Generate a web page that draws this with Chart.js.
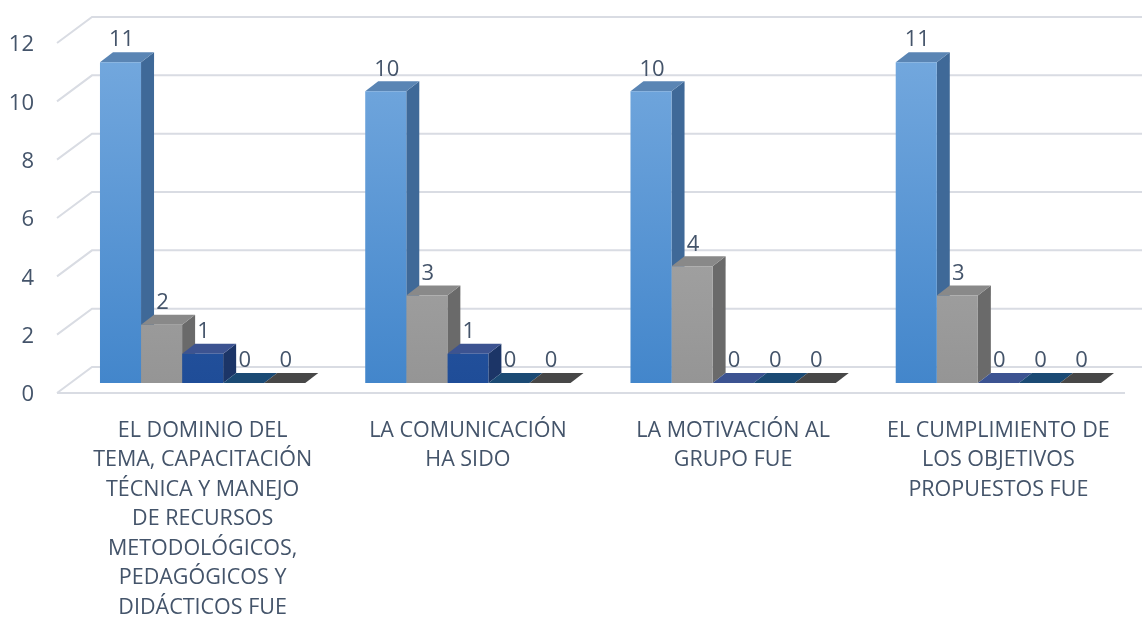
<!DOCTYPE html>
<html>
<head>
<meta charset="utf-8">
<script src="https://cdn.jsdelivr.net/npm/chart.js@4.4.1/dist/chart.umd.min.js"></script>
<style>
  html, body { margin: 0; padding: 0; background: #fff; }
  #wrap { width: 1142px; height: 628px; }
</style>
</head>
<body>
<div id="wrap"><canvas id="grafico"></canvas></div>
<script>
// DATOS

const categorias = [
  ["EL DOMINIO DEL", "TEMA, CAPACITACIÓN", "TÉCNICA Y MANEJO", "DE RECURSOS", "METODOLÓGICOS,", "PEDAGÓGICOS Y", "DIDÁCTICOS FUE"],
  ["LA COMUNICACIÓN", "HA SIDO"],
  ["LA MOTIVACIÓN AL", "GRUPO FUE"],
  ["EL CUMPLIMIENTO DE", "LOS OBJETIVOS", "PROPUESTOS FUE"],
];

const serie1 = [11, 10, 10, 11];
const serie2 = [2, 3, 4, 3];
const serie3 = [1, 1, 0, 0];
const serie4 = [0, 0, 0, 0];
const serie5 = [0, 0, 0, 0];

const ticksY = [0, 2, 4, 6, 8, 10, 12];

// colores de cada serie: frente (arriba/abajo), lado, tapa
const estilos = [
  { arriba: "#76aadf", abajo: "#4386cb", lado: "#3f6998", tapa: "#5a85b4" },
  { arriba: "#b3b3b3", abajo: "#959595", lado: "#6a6a6a", tapa: "#898989" },
  { arriba: "#3964b0", abajo: "#1f4d98", lado: "#1c3567", tapa: "#3c5391" },
  { arriba: "#1d4c78", abajo: "#1b4670", lado: "#143556", tapa: "#1b4a74" },
  { arriba: "#4a4a4a", abajo: "#404040", lado: "#2e2e2e", tapa: "#474747" },
];

// profundidad de las barras y de las paredes
const PROF_X = 13, PROF_Y = -10;
const FONDO_X = 22, FONDO_Y = -16;
const FRENTE_X = -13, FRENTE_Y = 10;

const colorTexto = "#44546a";
const colorGrilla = "#d9dce3";

function degradado(i) {
  return function (context) {
    const area = context.chart.chartArea;
    if (!area) return estilos[i].abajo;
    const g = context.chart.ctx.createLinearGradient(0, area.top, 0, area.bottom);
    g.addColorStop(0, estilos[i].arriba);
    g.addColorStop(1, estilos[i].abajo);
    return g;
  };
}

// Paredes, lados y tapas en 3D
const tresD = {
  id: "tresD",
  beforeDatasetsDraw(chart) {
    const ctx = chart.ctx;
    const area = chart.chartArea;
    const y = chart.scales.y;

    ctx.save();
    ctx.strokeStyle = colorGrilla;
    ctx.lineWidth = 2;
    ticksY.forEach((v) => {
      const py = y.getPixelForValue(v);
      ctx.beginPath();
      ctx.moveTo(area.left + FRENTE_X, py + FRENTE_Y);
      ctx.lineTo(area.left + FONDO_X, py + FONDO_Y);
      ctx.lineTo(chart.width, py + FONDO_Y);
      ctx.stroke();
    });
    // borde delantero del piso
    const p0 = y.getPixelForValue(0);
    ctx.beginPath();
    ctx.moveTo(area.left + FRENTE_X, p0 + FRENTE_Y);
    ctx.lineTo(area.right - 6, p0 + FRENTE_Y);
    ctx.stroke();

    // lados primero, luego tapas
    const barras = [];
    chart.data.datasets.forEach((ds, i) => {
      chart.getDatasetMeta(i).data.forEach((bar) => {
        const p = bar.getProps(["x", "y", "base", "width"], true);
        barras.push({ i, l: p.x - p.width / 2, r: p.x + p.width / 2, y: p.y, base: p.base });
      });
    });

    barras.forEach((b) => {
      if (b.base - b.y < 0.5) return;
      ctx.fillStyle = estilos[b.i].lado;
      ctx.beginPath();
      ctx.moveTo(b.r, b.y);
      ctx.lineTo(b.r + PROF_X, b.y + PROF_Y);
      ctx.lineTo(b.r + PROF_X, b.base + PROF_Y);
      ctx.lineTo(b.r, b.base);
      ctx.closePath();
      ctx.fill();
    });

    barras.forEach((b) => {
      ctx.fillStyle = estilos[b.i].tapa;
      ctx.beginPath();
      ctx.moveTo(b.l, b.y);
      ctx.lineTo(b.l + PROF_X, b.y + PROF_Y);
      ctx.lineTo(b.r + PROF_X, b.y + PROF_Y);
      ctx.lineTo(b.r, b.y);
      ctx.closePath();
      ctx.fill();
    });
    ctx.restore();
  },
  afterDatasetsDraw(chart) {
    const ctx = chart.ctx;
    ctx.save();
    ctx.fillStyle = colorTexto;
    ctx.font = '22px "Open Sans"';
    ctx.textAlign = "center";
    ctx.textBaseline = "bottom";
    chart.data.datasets.forEach((ds, i) => {
      chart.getDatasetMeta(i).data.forEach((bar, j) => {
        const p = bar.getProps(["x", "y"], true);
        ctx.fillText(String(ds.data[j]), p.x + 1, p.y + PROF_Y - 1);
      });
    });
    ctx.restore();
  },
};

const series = [serie1, serie2, serie3, serie4, serie5];
const nombres = ["Excelente", "Muy bueno", "Bueno", "Regular", "Malo"];

new Chart(document.getElementById("grafico"), {
  type: "bar",
  data: {
    labels: categorias,
    datasets: series.map((datos, i) => ({
      label: nombres[i],
      data: datos,
      backgroundColor: degradado(i),
      borderWidth: 0,
      categoryPercentage: 0.774,
      barPercentage: 1.0,
    })),
  },
  options: {
    responsive: true,
    maintainAspectRatio: false,
    animation: false,
    layout: { padding: { top: 33, right: 11, bottom: 0, left: 0 } },
    plugins: {
      legend: { display: false },
      tooltip: { enabled: false },
    },
    scales: {
      x: {
        grid: { display: false },
        border: { display: false },
        ticks: {
          color: colorTexto,
          font: { family: "Open Sans", size: 21.5, lineHeight: 1.37 },
          padding: 25,
          maxRotation: 0,
          autoSkip: false,
        },
        afterFit(s) { s.height = 245; },
      },
      y: {
        min: 0,
        max: 12,
        grid: { display: false, drawTicks: false },
        border: { display: false },
        afterBuildTicks(s) { s.ticks = ticksY.map((v) => ({ value: v })); },
        ticks: {
          color: colorTexto,
          font: { family: "Open Sans", size: 22 },
          padding: 36,
          labelOffset: 12,
        },
        afterFit(s) {
          s.width = 70;
          s.paddingTop = 0;
          s.paddingBottom = 0;
        },
      },
    },
  },
  plugins: [tresD],
});
</script>
</body>
</html>
